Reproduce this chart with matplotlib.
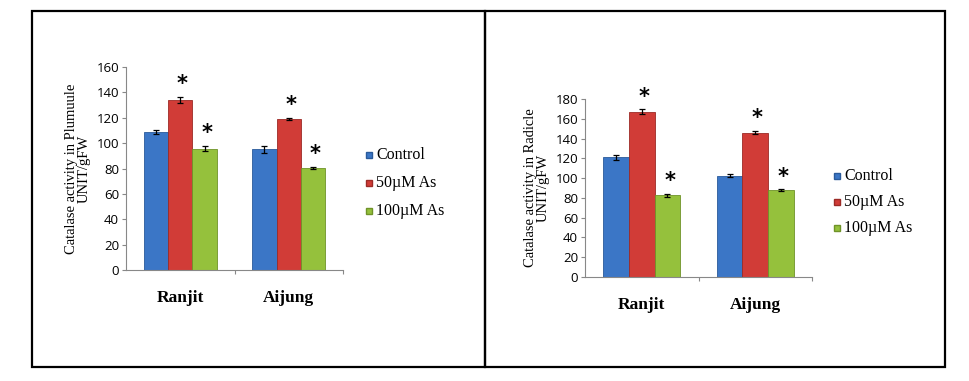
import numpy as np
import matplotlib.pyplot as plt
from matplotlib.patches import Rectangle
from matplotlib.lines import Line2D

cultivars = ['Ranjit', 'Aijung']
treatments = ['Control', '50µM As', '100µM As']

plumule_control = [109, 95]
plumule_50 = [134, 119]
plumule_100 = [95.5, 80.5]
plumule_err_control = [1.5, 3]
plumule_err_50 = [2.5, 1]
plumule_err_100 = [2, 1]

radicle_control = [121, 102.5]
radicle_50 = [167, 146]
radicle_100 = [82.5, 87.5]
radicle_err_control = [2.5, 1.5]
radicle_err_50 = [2.5, 1.5]
radicle_err_100 = [1.5, 1]

# significance marks (control has none)
star_50 = [True, True]
star_100 = [True, True]

colors = ['#3b76c6', '#d13c37', '#95c13c']
edges = ['#2a5a9a', '#9c2a26', '#6f9328']
W, H = 969, 381

fig = plt.figure(figsize=(W / 100, H / 100), dpi=100)


def px(x0, y0, x1, y1):
    # pixel box (top-left origin) -> figure fraction rect
    return [x0 / W, 1 - y1 / H, (x1 - x0) / W, (y1 - y0) / H]


# outer frames
for x0, x1 in [(32, 485), (485, 945)]:
    fig.add_artist(Rectangle((x0 / W, 1 - 367 / H), (x1 - x0) / W, (367 - 11) / H,
                             transform=fig.transFigure, fill=False,
                             edgecolor='black', linewidth=1.6))


def panel(rect, vals, errs, stars, ymax, ylabel, leg_pos, leg_gap, lab_y):
    ax = fig.add_axes(rect)
    x = np.arange(len(cultivars))
    w = 0.225
    for i in range(3):
        pos = x + (i - 1) * w
        ax.bar(pos, vals[i], w, color=colors[i], edgecolor=edges[i], linewidth=0.6,
               yerr=errs[i], capsize=2.5, error_kw=dict(elinewidth=0.9, capthick=0.9, ecolor='black'))
        if stars[i] is not None:
            for j, s in enumerate(stars[i]):
                if s:
                    ax.text(pos[j] + 0.02, vals[i][j] + errs[i][j] + ymax * 0.015, '*',
                            ha='center', va='bottom', fontsize=15, fontweight='bold')
    ax.set_xlim(-0.5, 1.5)
    ax.set_ylim(0, ymax)
    ax.set_yticks(np.arange(0, ymax + 1, 20))
    ax.set_xticks([0.5, 1.5])
    ax.set_xticklabels([])
    ax.tick_params(axis='x', length=3, color='#888888', direction='out')
    ax.tick_params(axis='y', length=3, color='#888888', labelsize=9.5, pad=2)
    for t in ax.get_yticklabels():
        t.set_family('Open Sans')
    for sp in ['top', 'right']:
        ax.spines[sp].set_visible(False)
    for sp in ['left', 'bottom']:
        ax.spines[sp].set_color('#888888')
        ax.spines[sp].set_linewidth(0.8)
    ax.set_ylabel(ylabel, family='Liberation Serif', fontsize=10.5, linespacing=1.0, labelpad=4)
    for j, name in enumerate(cultivars):
        ax.text(x[j], lab_y, name, transform=ax.get_xaxis_transform(), ha='center', va='center',
                family='Liberation Serif', fontweight='bold', fontsize=12.5)
    lx, ly = leg_pos
    for i, t in enumerate(treatments):
        yy = ly + i * leg_gap
        fig.add_artist(Line2D([lx / W], [1 - yy / H], marker='s', markersize=5,
                              color=colors[i], markeredgecolor=edges[i], linestyle='none'))
        fig.text((lx + 7) / W, 1 - yy / H, t, family='Liberation Serif', fontsize=11.5, va='center')
    return ax


panel(px(126, 67, 343, 270),
      [plumule_control, plumule_50, plumule_100],
      [plumule_err_control, plumule_err_50, plumule_err_100],
      [None, star_50, star_100], 160,
      'Catalase activity in Plumuule\nUNIT/gFW', (369, 155), 28, -0.14)

panel(px(585, 99, 812, 277),
      [radicle_control, radicle_50, radicle_100],
      [radicle_err_control, radicle_err_50, radicle_err_100],
      [None, star_50, star_100], 180,
      'Catalase activity in Radicle\nUNIT/gFW', (837, 176), 26, -0.16)

fig.savefig('out.png', dpi=100)
